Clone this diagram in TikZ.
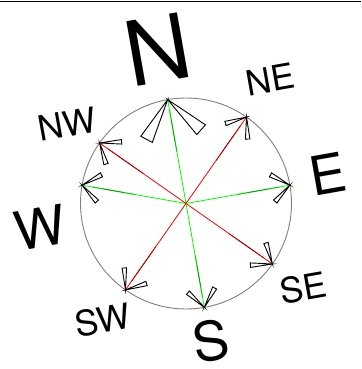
\documentclass[tikz,border=0pt]{standalone}
\usepackage{fontspec}
\setmainfont{TeX Gyre Heros}
\usetikzlibrary{calc}
\begin{document}
\begin{tikzpicture}[x=1pt,y=1pt,
  rim/.style={draw=gray, line width=0.9pt},
  vane/.style={draw=black, line width=0.9pt, line join=miter},
  lbl/.style={inner sep=0pt, rotate=10, text=black},
  bigl/.style={lbl, font=\fontsize{90}{90}\selectfont},
  midl/.style={lbl, font=\fontsize{54}{54}\selectfont},
  smalll/.style={lbl, font=\fontsize{35}{35}\selectfont},
  ray/.style={line width=0.8pt}]
\useasboundingbox (0,0) rectangle (361,369);
\coordinate (tl) at (0,367.5);
\coordinate (tr) at (361,367.5);
\draw[line width=1pt] (tl) -- (tr);
\coordinate (c) at (186,165.5);
\draw[rim] (c) circle[radius=105.5];
\foreach \nm/\a/\col/\L/\w in {n/100/green/45/13, ne/55/red/22/4.5, e/10/green/22/4.5, se/-35/red/22/4.5, s/-80/green/22/4.5, sw/-125/red/22/4.5, w/170/green/22/4.5, nw/145/red/22/4.5} {
  \coordinate (\nm) at ($(c)+(\a:105.5)$);
  \draw[ray, \col] (c) -- (\nm);
  \draw[ray, \col!80!black] ($(c)!0.5!(\nm)$) -- ($(c)!0.6!(\nm)$);
  \draw[ray, \col!60!black] ($(c)!0.6!(\nm)$) -- ($(c)!0.8!(\nm)$);
  \draw[ray, \col!80!black] ($(c)!0.8!(\nm)$) -- ($(c)!0.9!(\nm)$);
  \pgfmathsetmacro\b{\a+180}
  \foreach \s in {38,-38}{
    \draw[vane] (\nm) -- ($(\nm)+({\b+\s}:\L)+({\b+\s+90}:{\w/2})$) -- ($(\nm)+({\b+\s}:\L)+({\b+\s-90}:{\w/2})$) -- cycle;
  }
}
\node[bigl] (ln) at ($(c)+(100.3:156.5)$) {N};
\node[smalll] (lne) at ($(c)+(55.9:150)$) {NE};
\node[midl] (le) at ($(c)+(11.9:145)$) {E};
\node[smalll] (lse) at ($(c)+(-35.7:144)$) {SE};
\node[midl] (ls) at ($(c)+(-79.7:140)$) {S};
\node[smalll] (lsw) at ($(c)+(234.6:143.5)$) {SW};
\node[midl] (lw) at ($(c)+(189.3:148)$) {W};
\node[smalll] (lnw) at ($(c)+(146.4:143)$) {NW};
\end{tikzpicture}
\end{document}
